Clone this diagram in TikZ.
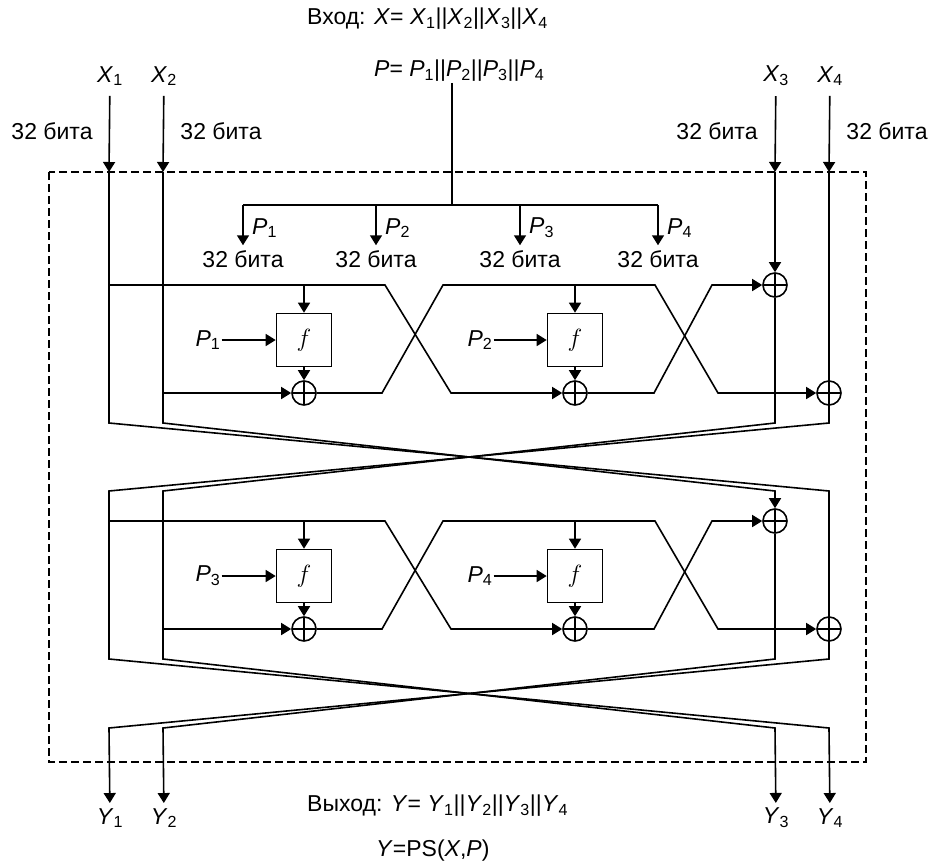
\documentclass[tikz,border=0pt]{standalone}
\usepackage{fontspec}
\setmainfont{Liberation Sans}
\usetikzlibrary{arrows.meta, positioning, calc}
\newcommand{\ix}[2]{\textit{#1}\textsubscript{#2}}

\begin{document}
\begin{tikzpicture}[x=1pt, y=-1pt,
    wire/.style={line width=1.6pt},
    arrow/.style={wire, -{Triangle[length=10pt, width=12pt]}},
    fbox/.style={draw, wire, minimum width=55pt, minimum height=53pt, inner sep=0pt, font=\fontsize{30}{30}\selectfont},
    xorop/.style={draw, wire, circle, minimum size=24pt, inner sep=0pt,
      path picture={\draw[wire] (path picture bounding box.north) -- (path picture bounding box.south)
        (path picture bounding box.west) -- (path picture bounding box.east);}},
    lbl/.style={font=\fontsize{23}{27}\selectfont, inner sep=1pt}
  ]
    \useasboundingbox (0,0) rectangle (935,868);

    % Input / output formulas
    \node[lbl, anchor=west] (vin) at (306,19) {Вход: \textit{X}= \ix X1||\ix X2||\ix X3||\ix X4};
    \node[lbl, anchor=west] (pin) at (373,71) {\textit{P}= \ix P1||\ix P2||\ix P3||\ix P4};
    \node[lbl, anchor=west] (vout) at (306,806) {Выход: \textit{Y}= \ix Y1||\ix Y2||\ix Y3||\ix Y4};
    \node[lbl, anchor=west] (ps) at (375,851) {\textit{Y}=PS(\textit{X},\textit{P})};

    % Input words
    \node[lbl] (x1) at (110,76) {\ix X1};
    \node[lbl] (x2) at (164,76) {\ix X2};
    \node[lbl] (x3) at (776,76) {\ix X3};
    \node[lbl] (x4) at (830,76) {\ix X4};
    \node[lbl] (w1) at (52,131) {32 бита};
    \node[lbl] (w2) at (221,131) {32 бита};
    \node[lbl] (w3) at (717,131) {32 бита};
    \node[lbl] (w4) at (887,131) {32 бита};

    % Output words
    \node[lbl] (y1) at (110,818) {\ix Y1};
    \node[lbl] (y2) at (164,818) {\ix Y2};
    \node[lbl] (y3) at (776,818) {\ix Y3};
    \node[lbl] (y4) at (830,818) {\ix Y4};

    % Dashed frame
    \draw[wire, dash pattern=on 8pt off 4pt] (49,172) rectangle (866,762);

    % Column points
    \coordinate (a0) at (109,172); \coordinate (b0) at (163,172);
    \coordinate (c0) at (775,172); \coordinate (d0) at (829,172);
    \coordinate (a1) at (109,423); \coordinate (b1) at (163,423);
    \coordinate (c1) at (775,423); \coordinate (d1) at (829,423);
    \coordinate (a2) at (109,491); \coordinate (b2) at (163,491);
    \coordinate (c2) at (775,491); \coordinate (d2) at (829,491);
    \coordinate (a3) at (109,659); \coordinate (b3) at (163,659);
    \coordinate (c3) at (775,659); \coordinate (d3) at (829,659);
    \coordinate (a4) at (109,728); \coordinate (b4) at (163,728);
    \coordinate (c4) at (775,728); \coordinate (d4) at (829,728);

    % Key bus
    \coordinate (pbus) at (452,205);
    \coordinate (pa) at (243,205); \coordinate (pb) at (376,205);
    \coordinate (pc) at (520,205); \coordinate (pd) at (658,205);
    \node[lbl] (ka) at (243,259) {32 бита};
    \node[lbl] (kb) at (376,259) {32 бита};
    \node[lbl] (kc) at (520,259) {32 бита};
    \node[lbl] (kd) at (658,259) {32 бита};
    \node[lbl, anchor=west] at (251,228) {\ix P1};
    \node[lbl, anchor=west] at (384,228) {\ix P2};
    \node[lbl, anchor=west] at (528,228) {\ix P3};
    \node[lbl, anchor=west] at (666,228) {\ix P4};
    \draw[wire] (pbus |- pin.south) -- (pbus);
    \draw[wire] (pa) -- (pd);
    \draw[arrow, shorten >=4pt] (pa) -- (ka.north);
    \draw[arrow, shorten >=4pt] (pb) -- (kb.north);
    \draw[arrow, shorten >=4pt] (pc) -- (kc.north);
    \draw[arrow, shorten >=4pt] (pd) -- (kd.north);

    % Round 1
    \node[fbox] (f1) at (304,340) {$f$};
    \node[fbox] (f2) at (575,340) {$f$};
    \node[xorop] (o1) at (304,393) {};
    \node[xorop] (o2) at (575,393) {};
    \node[xorop] (o3) at (775,285) {};
    \node[xorop] (o4) at (829,393) {};
    \node[lbl] (k1) at (208,340) {\ix P1};
    \node[lbl] (k2) at (480,340) {\ix P2};
    \coordinate (u1) at (385,285); \coordinate (u2) at (451,393);
    \coordinate (u3) at (382,393); \coordinate (u4) at (443,285);
    \coordinate (u5) at (655,285); \coordinate (u6) at (718,393);
    \coordinate (u7) at (654,393); \coordinate (u8) at (712,285);
    \draw[arrow] (a0 |- u1) -- (u1) -- (u2) -- (o2);
    \draw[arrow] (b0 |- o1) -- (o1);
    \draw[arrow] (o1) -- (u3) -- (u4) -- (u5) -- (u6) -- (o4);
    \draw[arrow] (o2) -- (u7) -- (u8) -- (o3);
    \draw[arrow] (f1 |- u1) -- (f1);
    \draw[arrow] (f1) -- (o1);
    \draw[arrow] (f2 |- u4) -- (f2);
    \draw[arrow] (f2) -- (o2);
    \draw[arrow] (k1) -- (f1);
    \draw[arrow] (k2) -- (f2);

    % Round 2
    \node[fbox] (f3) at (304,576) {$f$};
    \node[fbox] (f4) at (575,576) {$f$};
    \node[xorop] (o5) at (304,629) {};
    \node[xorop] (o6) at (575,629) {};
    \node[xorop] (o7) at (775,521) {};
    \node[xorop] (o8) at (829,629) {};
    \node[lbl] (k3) at (208,576) {\ix P3};
    \node[lbl] (k4) at (480,576) {\ix P4};
    \coordinate (v1) at (385,521); \coordinate (v2) at (451,629);
    \coordinate (v3) at (382,629); \coordinate (v4) at (443,521);
    \coordinate (v5) at (655,521); \coordinate (v6) at (718,629);
    \coordinate (v7) at (654,629); \coordinate (v8) at (712,521);
    \draw[arrow] (a2 |- v1) -- (v1) -- (v2) -- (o6);
    \draw[arrow] (b2 |- o5) -- (o5);
    \draw[arrow] (o5) -- (v3) -- (v4) -- (v5) -- (v6) -- (o8);
    \draw[arrow] (o6) -- (v7) -- (v8) -- (o7);
    \draw[arrow] (f3 |- v1) -- (f3);
    \draw[arrow] (f3) -- (o5);
    \draw[arrow] (f4 |- v4) -- (f4);
    \draw[arrow] (f4) -- (o6);
    \draw[arrow] (k3) -- (f3);
    \draw[arrow] (k4) -- (f4);

    % Columns and crossings
    \draw[arrow, shorten <=9pt] (x1) -- (a0);
    \draw[arrow, shorten <=9pt] (x2) -- (b0);
    \draw[arrow, shorten <=9pt] (x3) -- (c0);
    \draw[arrow, shorten <=9pt] (x4) -- (d0);
    \draw[arrow, shorten >=4pt] (a0) -- (a1) -- (d2) -- (d3) -- (a4) -- (y1);
    \draw[arrow] (b0) -- (b1) -- (c2) -- (o7);
    \draw[arrow, shorten >=4pt] (o7) -- (c3) -- (b4) -- (y2);
    \draw[arrow] (c0) -- (o3);
    \draw[arrow, shorten >=4pt] (o3) -- (c1) -- (b2) -- (b3) -- (c4) -- (y3);
    \draw[arrow, shorten >=4pt] (d0) -- (d1) -- (a2) -- (a3) -- (d4) -- (y4);

  \end{tikzpicture}
\end{document}
